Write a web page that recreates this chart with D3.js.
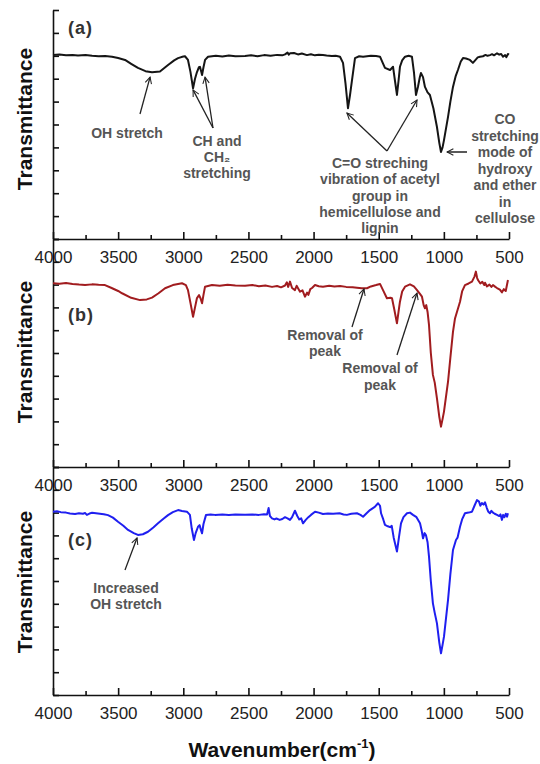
<!DOCTYPE html>
<html>
<head>
<meta charset="utf-8">
<script src="https://cdn.jsdelivr.net/npm/d3@7"></script>
<style>
  html, body { margin: 0; padding: 0; background: #fff; }
  svg { display: block; font-family: "Liberation Sans", Arial, sans-serif; }
</style>
</head>
<body>
<svg id="chart" width="540" height="764"></svg>
<script>
// FTIR spectra: (a) raw fibre, (b) first treatment, (c) second treatment.
// Wavenumbers in cm^-1, transmittance in arbitrary stacked units (0-10 per panel).

const wnA = [4000,3950,3900,3850,3808,3750,3700,3650,3600,3547,3500,3447,3400,3348,3290,3240,3179,3117,3070,3040,3000,2987,2964,2945,2925,2910,2895,2880,2872,2862,2856,2845,2833,2810,2750,2700,2650,2600,2526,2480,2430,2380,2330,2280,2240,2219,2200,2190,2181,2150,2120,2090,2051,2020,1990,1960,1928,1900,1860,1830,1797,1774,1755,1736,1720,1705,1682,1650,1620,1560,1520,1490,1470,1452,1413,1390,1375,1360,1348,1337,1320,1298,1270,1245,1229,1214,1199,1185,1176,1160,1145,1125,1107,1080,1053,1035,1022,1010,999,968,950,930,910,892,870,853,830,800,777,760,740,723,700,680,665,646,630,615,592,575,560,546,530,520,508,500];
const tA  = [8.03,8.06,8.02,8.04,8.01,8.03,8.00,7.98,7.99,7.96,7.90,7.82,7.65,7.47,7.33,7.28,7.31,7.60,7.80,7.90,7.97,7.98,7.82,7.30,6.58,7.00,7.29,7.50,7.52,7.30,7.16,7.50,7.82,7.96,8.00,7.97,8.01,7.98,7.99,8.02,7.98,8.03,8.00,8.04,8.02,8.06,8.14,8.05,8.11,8.12,8.06,8.10,8.03,8.07,8.02,8.05,8.03,8.01,7.99,8.00,7.96,7.69,6.80,5.71,6.30,6.94,7.90,7.98,7.96,8.00,7.99,7.96,7.70,7.47,7.38,7.52,6.90,6.29,6.90,7.52,7.80,7.96,8.00,7.96,7.25,6.29,6.64,7.05,7.25,7.07,6.64,6.40,6.29,5.70,4.89,4.20,3.80,4.00,4.32,5.33,6.00,6.64,7.10,7.38,7.75,7.90,7.88,7.82,7.69,7.80,7.93,7.96,7.98,8.04,8.00,8.03,8.07,8.02,8.11,8.05,8.08,7.96,8.03,7.94,8.08,8.05];

const wnB = [4000,3950,3900,3850,3800,3754,3700,3650,3601,3550,3500,3470,3400,3332,3280,3240,3190,3140,3080,3010,2980,2964,2945,2925,2910,2895,2879,2868,2856,2845,2833,2780,2720,2660,2600,2526,2470,2420,2370,2319,2280,2250,2219,2205,2195,2181,2165,2143,2130,2115,2104,2085,2066,2050,2040,2025,2012,1989,1960,1928,1880,1840,1797,1750,1700,1667,1630,1590,1560,1520,1490,1467,1437,1410,1398,1380,1360,1348,1337,1320,1298,1260,1230,1206,1185,1168,1155,1145,1135,1125,1114,1100,1084,1070,1053,1035,1022,1010,999,968,950,930,915,899,876,860,838,810,784,765,754,745,738,720,705,690,684,669,650,635,623,605,592,570,554,540,525,508];
const tB  = [8.06,8.04,8.07,8.03,8.00,7.98,8.01,7.99,7.98,7.85,7.72,7.62,7.42,7.32,7.35,7.43,7.62,7.84,7.98,8.06,7.98,7.76,7.20,6.59,7.00,7.41,7.54,7.40,7.18,7.55,7.91,7.98,7.95,7.99,7.96,7.95,7.98,7.93,7.96,7.90,7.94,7.88,7.96,8.10,7.90,8.13,7.85,7.76,7.95,7.80,7.69,7.75,7.47,7.65,7.55,7.80,7.85,7.98,7.93,7.91,7.95,7.92,7.94,7.90,7.88,7.86,7.84,7.84,7.92,7.98,8.03,7.76,7.40,7.42,7.40,6.90,6.30,6.80,7.25,7.70,7.91,8.01,7.92,7.76,7.60,7.47,7.10,6.96,7.10,6.80,6.23,5.00,4.04,3.70,3.01,2.20,1.77,2.10,2.43,3.74,4.80,5.93,6.50,6.81,7.25,7.70,7.98,8.05,8.13,8.35,8.57,8.30,8.20,8.05,8.12,7.98,8.08,7.92,8.00,7.90,7.98,7.90,7.85,7.78,7.66,7.80,7.72,8.20];

const wnC = [4000,3970,3940,3900,3870,3831,3800,3770,3754,3740,3720,3700,3655,3610,3578,3540,3501,3460,3424,3380,3348,3310,3271,3230,3194,3150,3117,3080,3040,3010,2972,2949,2935,2918,2905,2887,2875,2865,2856,2845,2826,2790,2757,2700,2650,2600,2526,2470,2420,2380,2357,2345,2335,2319,2300,2285,2260,2240,2219,2200,2181,2165,2143,2125,2110,2095,2081,2060,2040,2020,1989,1960,1928,1890,1850,1800,1770,1744,1710,1667,1640,1620,1595,1567,1530,1505,1490,1482,1465,1452,1430,1413,1400,1385,1360,1345,1329,1310,1283,1260,1237,1210,1183,1170,1160,1148,1137,1125,1114,1100,1084,1070,1053,1035,1022,1010,999,968,950,930,907,895,876,860,838,810,784,765,746,730,720,708,695,684,670,660,646,635,623,610,592,575,565,554,545,535,525,515,508];
const tC  = [8.04,8.06,8.02,8.00,7.96,7.94,7.97,7.95,7.98,7.90,7.96,7.99,7.96,7.93,7.89,7.78,7.60,7.42,7.24,7.10,7.02,7.05,7.16,7.35,7.53,7.74,7.89,8.02,8.11,8.07,8.04,7.90,7.30,6.80,7.10,7.38,7.45,7.25,7.09,7.50,7.89,7.92,7.90,7.92,7.90,7.92,7.91,7.92,7.90,7.93,7.92,8.20,7.85,7.75,7.70,7.74,7.68,7.72,7.80,7.75,7.68,7.80,8.08,7.85,7.70,7.75,7.53,7.68,7.80,7.90,8.04,8.00,7.94,7.96,7.95,7.97,7.92,7.90,7.95,7.97,7.90,7.82,7.96,8.11,8.25,8.41,8.30,7.97,7.70,7.46,7.40,7.36,7.42,6.90,6.29,6.90,7.53,7.80,7.97,8.00,7.90,7.80,7.53,7.20,6.87,7.10,7.00,6.70,6.07,5.00,4.02,3.60,3.14,2.30,1.83,2.20,2.56,4.17,5.30,6.36,6.80,6.90,7.38,7.70,7.97,8.00,8.04,8.30,8.55,8.48,8.30,8.42,8.35,8.45,8.20,8.05,7.97,8.08,8.00,7.95,7.90,7.85,7.92,7.68,7.90,7.80,7.95,7.82,7.97];

const xTickLabels = [4000,3500,3000,2500,2000,1500,1000,500];
const xMinorTicks = [3750,3250,2750,2250,1750,1250,750];
const yTicks = [0,1,2,3,4,5,6,7,8,9,10];

const panels = [
  { key: "(a)", wn: wnA, t: tA, color: "#151515", top: 10,  bottom: 239, titleY: 119, keyY: 34 },
  { key: "(b)", wn: wnB, t: tB, color: "#a11c1f", top: 239, bottom: 467, titleY: 352, keyY: 321 },
  { key: "(c)", wn: wnC, t: tC, color: "#1f1ff0", top: 467, bottom: 695, titleY: 582, keyY: 546 }
];

const svg = d3.select("#chart");
const x = d3.scaleLinear().domain([4000, 500]).range([53, 509]);

// open arrowhead
svg.append("defs").append("marker")
  .attr("id", "arr").attr("viewBox", "0 0 10 10")
  .attr("refX", 9).attr("refY", 5)
  .attr("markerWidth", 8).attr("markerHeight", 8)
  .attr("markerUnits", "userSpaceOnUse")
  .attr("orient", "auto")
  .append("path").attr("d", "M1,1 L9,5 L1,9")
  .attr("fill", "none").attr("stroke", "#222").attr("stroke-width", 1.3);

panels.forEach(p => {
  p.y = d3.scaleLinear().domain([0, 10]).range([p.bottom, p.top]);
  const g = svg.append("g");

  // y axis: inward ticks, no labels
  g.append("g").attr("transform", `translate(${x.range()[0]},0)`)
    .call(d3.axisLeft(p.y).tickValues(yTicks).tickSize(-6).tickSizeOuter(0).tickFormat(""))
    .call(a => a.selectAll("line, path").attr("stroke", "#111").attr("stroke-width", 1.6));

  // x axis: major ticks with labels, minor ticks between
  g.append("g").attr("transform", `translate(0,${p.bottom})`)
    .call(d3.axisBottom(x).tickValues(xTickLabels).tickFormat(d3.format("d"))
      .tickSize(-7).tickSizeOuter(0).tickPadding(12))
    .call(a => a.selectAll("line, path").attr("stroke", "#111").attr("stroke-width", 1.6))
    .call(a => a.selectAll("text").attr("font-size", 17).attr("fill", "#222")
      .attr("font-family", "'Liberation Sans', Arial, sans-serif"));
  g.append("g").attr("transform", `translate(0,${p.bottom})`)
    .call(d3.axisBottom(x).tickValues(xMinorTicks).tickSize(-4).tickSizeOuter(0).tickFormat(""))
    .call(a => a.select(".domain").remove())
    .call(a => a.selectAll("line").attr("stroke", "#111").attr("stroke-width", 1.6));

  // spectrum
  const pts = p.wn.map((w, i) => [w, p.t[i]]);
  g.append("path").datum(pts)
    .attr("fill", "none").attr("stroke", p.color).attr("stroke-width", 2)
    .attr("stroke-linejoin", "round")
    .attr("d", d3.line().x(d => x(d[0])).y(d => p.y(d[1])));

  // axis title
  g.append("text")
    .attr("transform", `translate(24,${p.titleY}) rotate(-90)`)
    .attr("text-anchor", "middle").attr("dominant-baseline", "central")
    .attr("font-size", 21).attr("font-weight", "bold").attr("fill", "#111")
    .text("Transmittance");

  // panel letter
  g.append("text").attr("x", 68).attr("y", p.keyY)
    .attr("font-size", 18).attr("font-weight", "bold").attr("fill", "#333")
    .attr("letter-spacing", 1).text(p.key);
});

// annotations
function label(lines, cx, y0, lh) {
  const t = svg.append("text").attr("text-anchor", "middle")
    .attr("font-size", 14).attr("font-weight", "bold").attr("fill", "#555");
  lines.forEach((s, i) => t.append("tspan").attr("x", cx).attr("y", y0 + i * lh).text(s));
}
function arrow(panel, tail, wn, t) {
  svg.append("line")
    .attr("x1", tail[0]).attr("y1", tail[1])
    .attr("x2", x(wn)).attr("y2", panel.y(t))
    .attr("stroke", "#222").attr("stroke-width", 1.3)
    .attr("marker-end", "url(#arr)");
}
const [pa, pb, pc] = panels;

label(["OH stretch"], 127, 138, 16);
arrow(pa, [140, 114], 3255, 7.07);

label(["CH and", "CH\u2082", "stretching"], 217, 146, 16);
arrow(pa, [213, 128], 2925, 6.51);
arrow(pa, [213, 128], 2833, 7.07);

label(["C=O streching", "vibration of acetyl", "group in", "hemicellulose and", "lignin"], 380, 168, 16.3);
arrow(pa, [387, 151], 1744, 5.50);
arrow(pa, [387, 151], 1206, 6.07);

label(["CO", "stretching", "mode of", "hydroxy", "and ether", "in", "cellulose"], 505, 124, 16.5);
arrow(pa, [467, 152], 976, 3.80);

label(["Removal of", "peak"], 325, 340, 15.5);
arrow(pb, [352, 327], 1613, 7.81);
label(["Removal of", "peak"], 380, 373, 16.5);
arrow(pb, [397, 355], 1206, 7.63);

label(["Increased", "OH stretch"], 126, 593, 16);
arrow(pc, [125, 570], 3355, 6.89);

// x axis title
const xt = svg.append("text").attr("x", 282).attr("y", 757).attr("text-anchor", "middle")
  .attr("font-size", 21).attr("font-weight", "bold").attr("fill", "#111");
xt.append("tspan").text("Wavenumber(cm");
xt.append("tspan").attr("font-size", 13).attr("dy", -9).text("-1");
xt.append("tspan").attr("dy", 9).text(")");
</script>
</body>
</html>
